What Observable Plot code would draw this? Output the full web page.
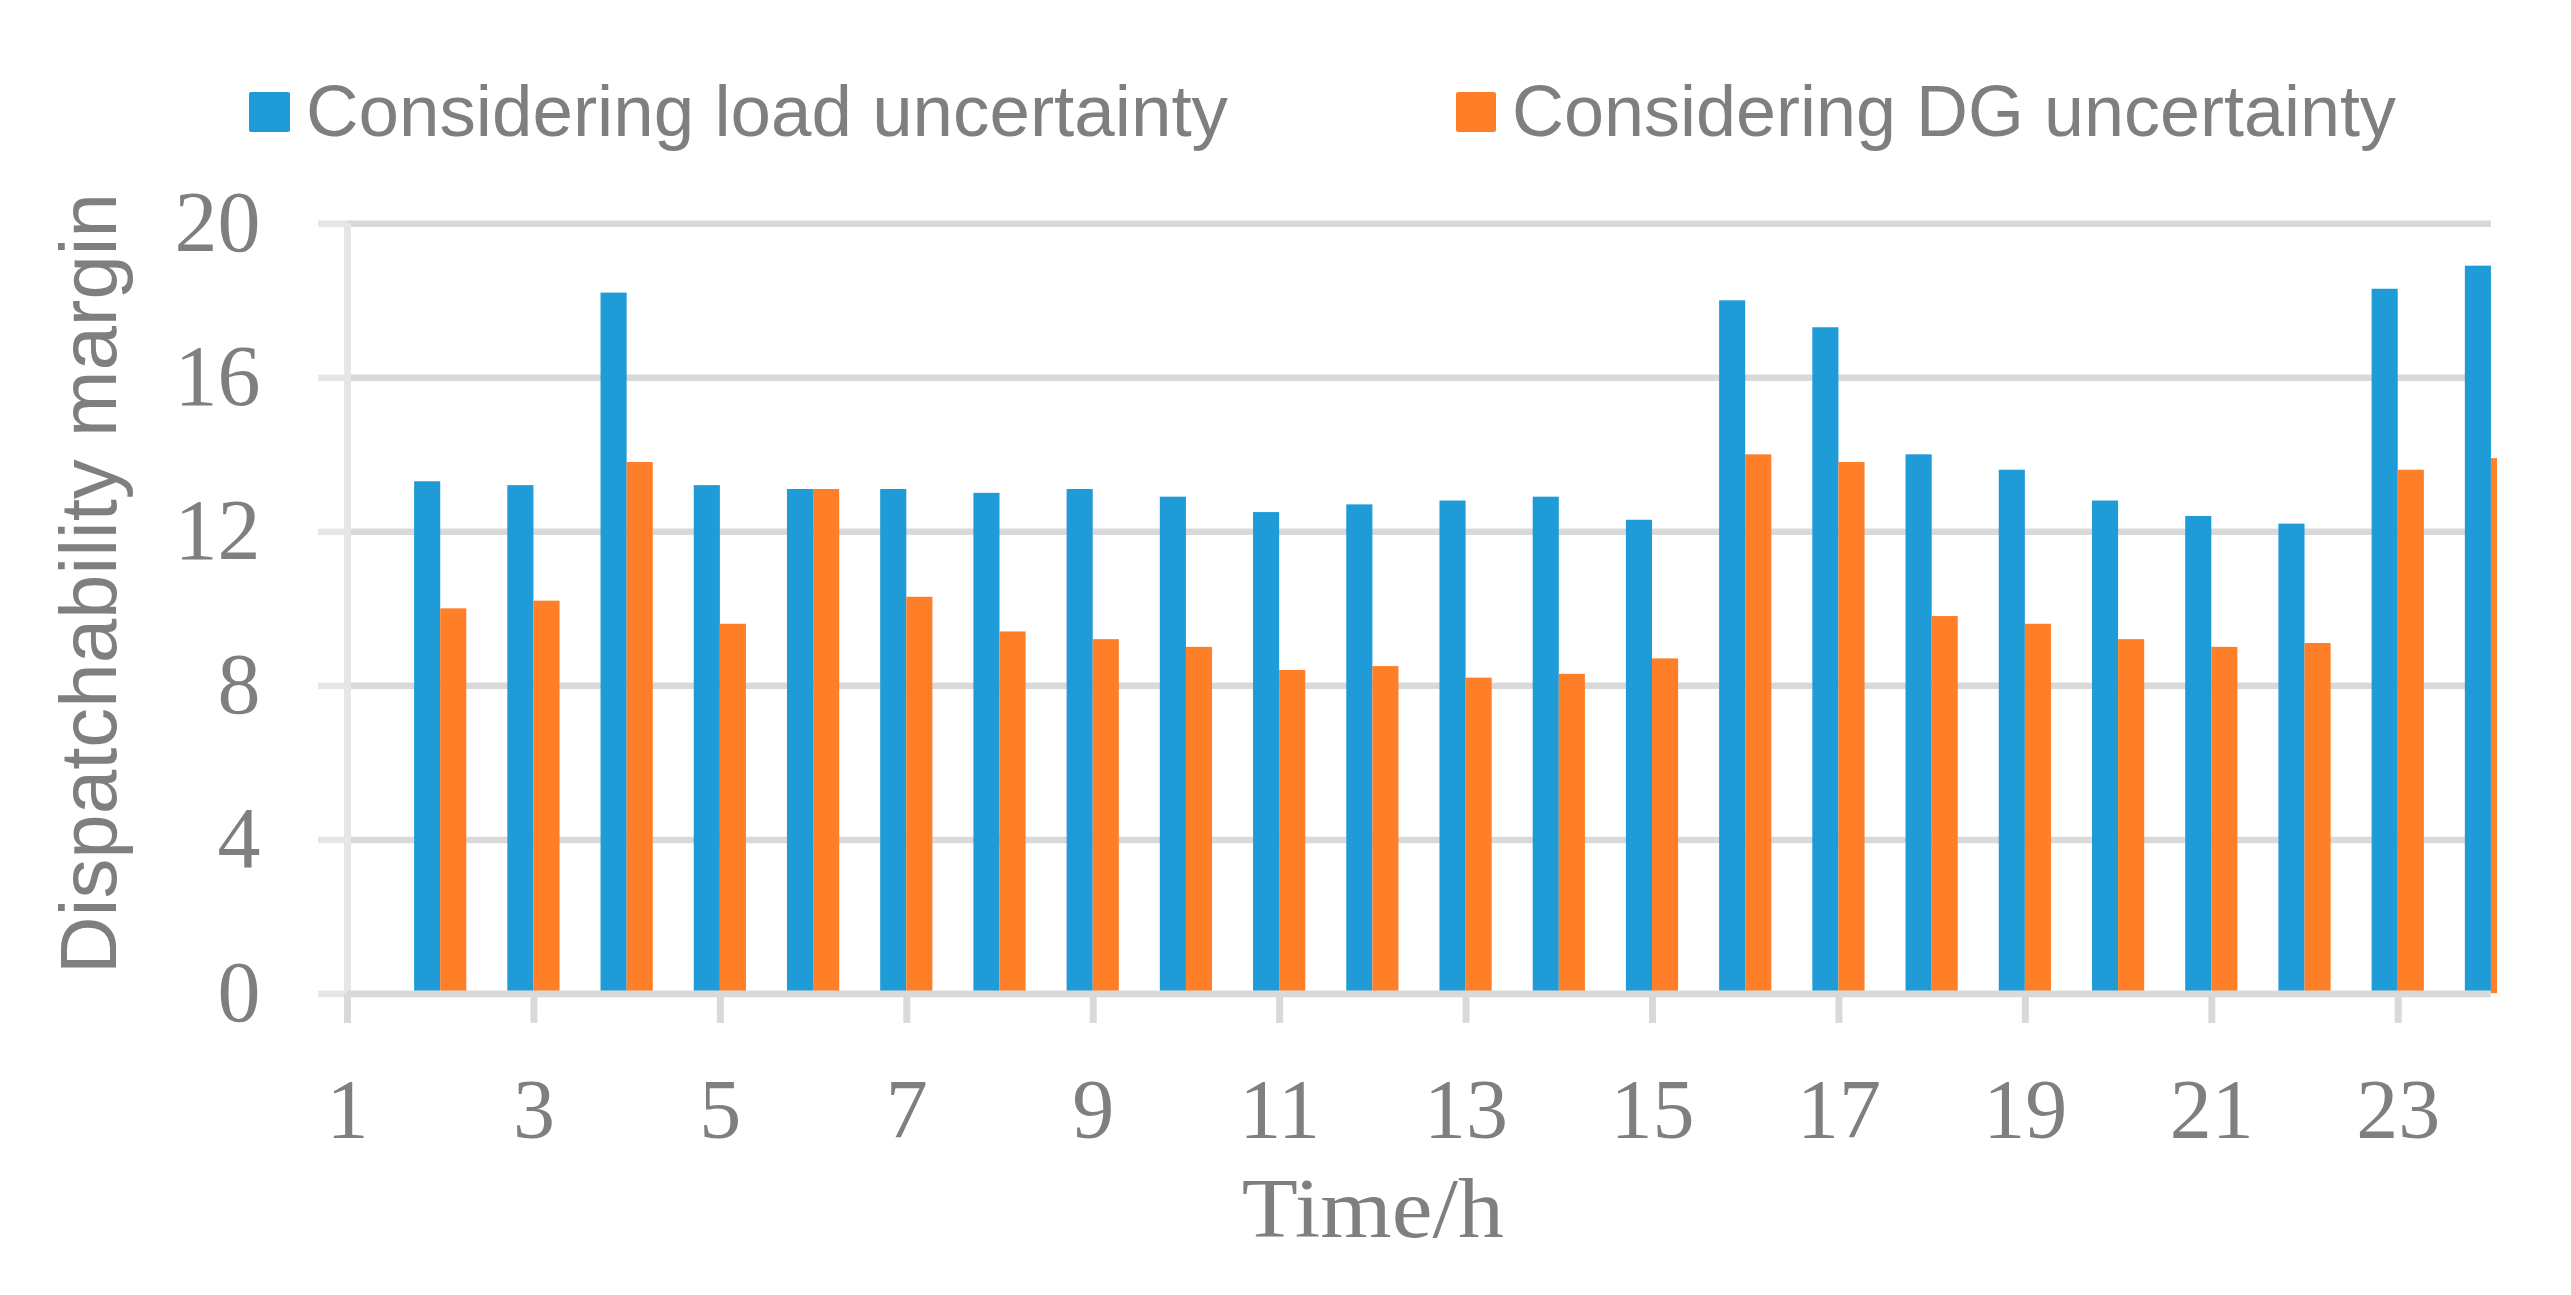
<!DOCTYPE html>
<html>
<head>
<meta charset="utf-8">
<script src="https://cdn.jsdelivr.net/npm/d3@7"></script>
<script src="https://cdn.jsdelivr.net/npm/@observablehq/plot@0.6"></script>
<style>
html, body { margin: 0; padding: 0; background: #fff; }
#legend, #chart { display: block; }
svg { display: block; }
</style>
</head>
<body>
<div id="legend"></div>
<div id="chart"></div>
<script>
// ---- data ----
const hours = [2, 3, 4, 5, 6, 7, 8, 9, 10, 11, 12, 13, 14, 15, 16, 17, 18, 19, 20, 21, 22, 23, 24];
const loadUncertainty = [13.3, 13.2, 18.2, 13.2, 13.1, 13.1, 13.0, 13.1, 12.9, 12.5, 12.7, 12.8, 12.9, 12.3, 18.0, 17.3, 14.0, 13.6, 12.8, 12.4, 12.2, 18.3, 18.9];
const dgUncertainty = [10.0, 10.2, 13.8, 9.6, 13.1, 10.3, 9.4, 9.2, 9.0, 8.4, 8.5, 8.2, 8.3, 8.7, 14.0, 13.8, 9.8, 9.6, 9.2, 9.0, 9.1, 13.6, 13.9];
const seriesNames = ["Considering load uncertainty", "Considering DG uncertainty"];
const xTicks = [1, 3, 5, 7, 9, 11, 13, 15, 17, 19, 21, 23];
const yTicks = [0, 4, 8, 12, 16, 20];
const xLabel = "Time/h";
const yLabel = "Dispatchability margin";

// ---- styles ----
const colors = ["#1f9bd7", "#fe7f27"];
const textColor = "#7f7f7f";
const barW = 0.28;

const rows = hours.map((t, i) => ({t, load: loadUncertainty[i], dg: dgUncertainty[i]}));

// ---- legend (above the SVG) ----
const legendH = 160;
const leg = d3.select("#legend").append("svg").attr("width", 2571).attr("height", legendH);
const legItems = [
  {x: 249, w: 41, tx: 306, len: 922},
  {x: 1456, w: 40, tx: 1512, len: 884}
];
seriesNames.forEach((name, i) => {
  const it = legItems[i];
  leg.append("rect").attr("x", it.x).attr("y", 92).attr("width", it.w).attr("height", 40)
    .attr("rx", 2).attr("fill", colors[i]);
  leg.append("text").attr("x", it.tx).attr("y", 136)
    .attr("font-family", "'Liberation Sans', Arial, sans-serif").attr("font-size", 73)
    .attr("fill", textColor).attr("textLength", it.len).attr("lengthAdjust", "spacingAndGlyphs")
    .text(name);
});

// ---- chart ----
const chart = Plot.plot({
  width: 2571,
  height: 1135,
  marginLeft: 347,
  marginRight: 74,
  marginTop: 63.3,
  marginBottom: 301.6,
  style: {background: "white", color: textColor},
  x: {type: "linear", domain: [1, 24.065]},
  y: {domain: [0, 20]},
  marks: [
    Plot.ruleY(yTicks.filter(v => v > 0), {x1: 1, x2: 24, stroke: "#d9d9d9", strokeWidth: 6.5}),
    Plot.ruleX([1], {y1: 0, y2: 20, stroke: "#e6e6e6", strokeWidth: 7}),
    Plot.rectY(rows, {x1: d => d.t - barW, x2: d => d.t, y: "load", fill: colors[0], clip: true}),
    Plot.rectY(rows, {x1: d => d.t, x2: d => d.t + barW, y: "dg", fill: colors[1], clip: true}),
    Plot.ruleY([0], {x1: 1, x2: 24, stroke: "#d9d9d9", strokeWidth: 6.7}),
    Plot.axisY(yTicks, {
      tickSize: 29, stroke: "#e6e6e6", strokeWidth: 6.5, tickPadding: 58,
      fontSize: 86, fontFamily: "'Liberation Serif', 'Times New Roman', serif", fill: textColor, label: null
    }),
    Plot.axisX(xTicks, {
      tickSize: 29.5, stroke: "#d9d9d9", strokeWidth: 7, tickPadding: 55,
      fontSize: 84, fontFamily: "'Liberation Serif', 'Times New Roman', serif", fill: textColor, label: null
    }),
    Plot.text([xLabel], {
      x: 12, frameAnchor: "bottom", lineAnchor: "middle", textAnchor: "middle", dy: 216.7, text: d => d,
      fontSize: 84, fontFamily: "'Liberation Serif', 'Times New Roman', serif", fill: textColor
    }),
    Plot.text([yLabel], {
      frameAnchor: "left", lineAnchor: "middle", textAnchor: "middle", rotate: -90, dx: -257.6, dy: -25.35, text: d => d,
      fontSize: 80, fontFamily: "'Liberation Sans', Arial, sans-serif", fill: textColor
    })
  ]
});
document.getElementById("chart").appendChild(chart);

d3.select(chart).selectAll("text").filter(function () { return this.textContent === yLabel; })
  .attr("textLength", 781).attr("lengthAdjust", "spacingAndGlyphs");
d3.select(chart).selectAll("text").filter(function () { return this.textContent === xLabel; })
  .attr("textLength", 262).attr("lengthAdjust", "spacingAndGlyphs");
</script>
</body>
</html>
